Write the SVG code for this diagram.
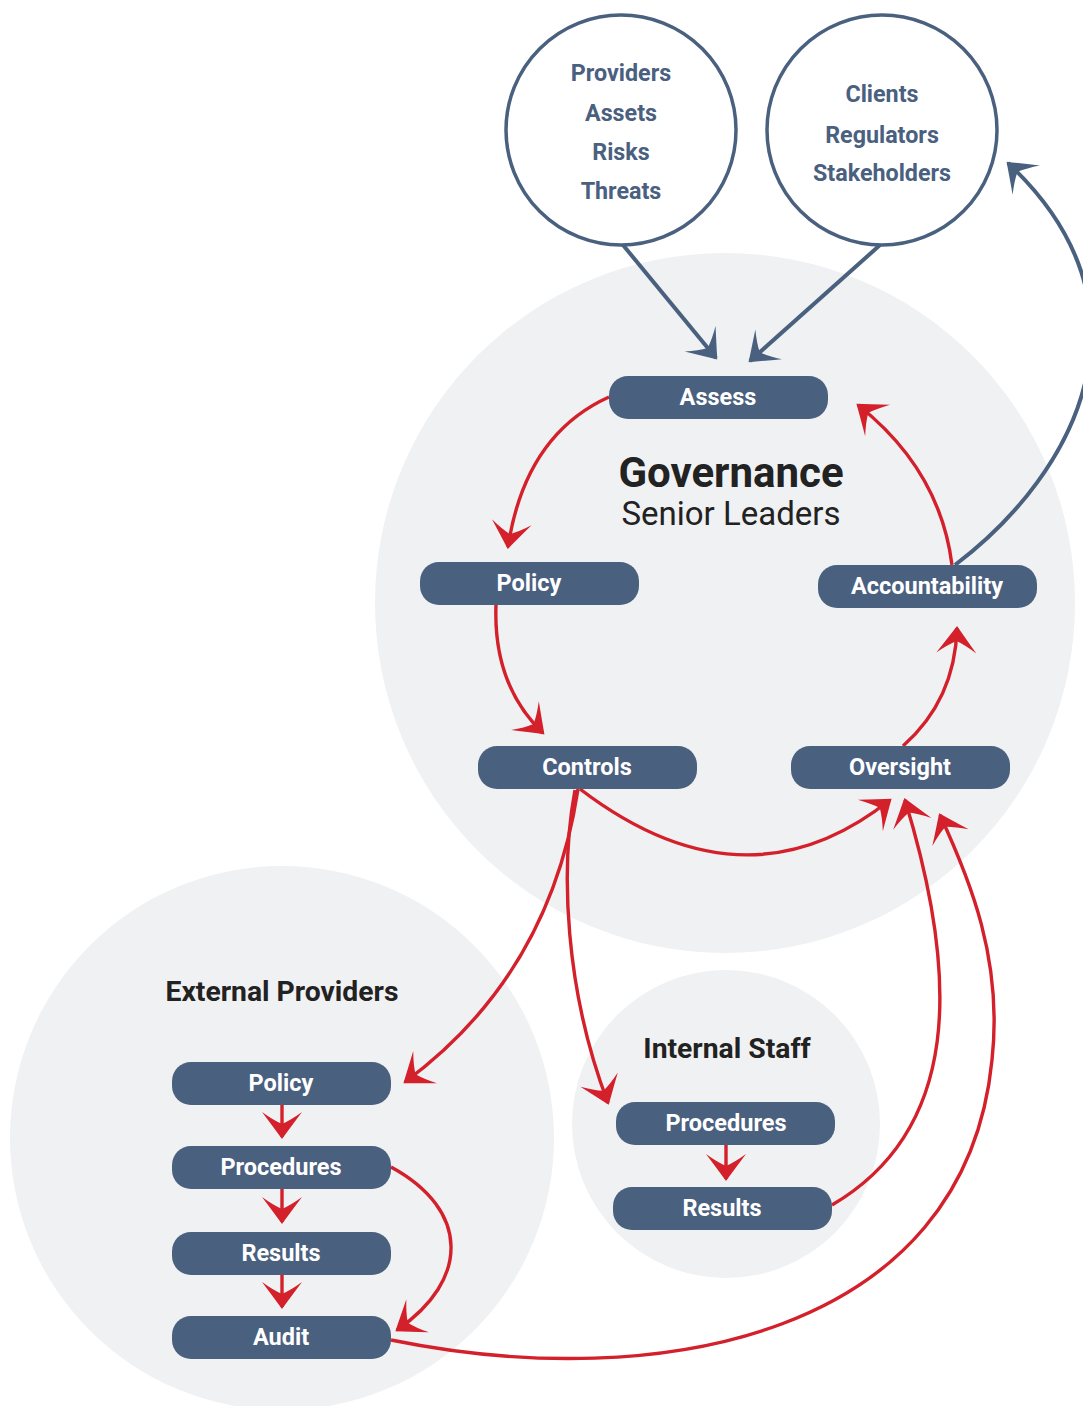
<svg xmlns="http://www.w3.org/2000/svg" width="1083" height="1406" viewBox="0 0 1083 1406">
<style>
.bg{fill:#f0f1f3}
.ring{fill:#fff;stroke:#4a607f;stroke-width:3.5}
.pill{fill:#4a607f}
.lbl{font-family:Roboto,"Liberation Sans",sans-serif;font-weight:bold;font-size:23.5px;fill:#fff;text-anchor:middle}
.ctext{font-family:Roboto,"Liberation Sans",sans-serif;font-weight:bold;font-size:23.3px;fill:#4a607f;text-anchor:middle}
.title{font-family:Roboto,"Liberation Sans",sans-serif;fill:#222;text-anchor:middle}
.red{fill:none;stroke:#d3202a;stroke-width:3.4;marker-end:url(#ar)}
.blue{fill:none;stroke:#4a607f;stroke-width:4;marker-end:url(#ab)}
</style>
<defs>
<marker id="ar" markerUnits="userSpaceOnUse" orient="auto" overflow="visible" refX="0" refY="0" markerWidth="10" markerHeight="10">
<path d="M2,0 Q-9,-8 -25,-20 Q-17,-9 -13,0 Q-17,9 -25,20 Q-9,8 2,0 Z" fill="#d3202a"/>
</marker>
<marker id="ab" markerUnits="userSpaceOnUse" orient="auto" overflow="visible" refX="0" refY="0" markerWidth="10" markerHeight="10">
<path d="M2,0 Q-9,-8 -25,-20 Q-17,-9 -13,0 Q-17,9 -25,20 Q-9,8 2,0 Z" fill="#4a607f"/>
</marker>
</defs>
<rect width="1083" height="1406" fill="#fff"/>
<g id="backgrounds">
<circle class="bg" cx="725" cy="603" r="350"/>
<circle class="bg" cx="282" cy="1138" r="272"/>
<circle class="bg" cx="726" cy="1124" r="154"/>
</g>
<g id="titles">
<text class="title" x="731" y="487" font-size="42" font-weight="bold">Governance</text>
<text class="title" x="731" y="525" font-size="33">Senior Leaders</text>
<text class="title" x="282" y="1001" font-size="28.3" font-weight="bold">External Providers</text>
<text class="title" x="727" y="1058" font-size="28.3" font-weight="bold">Internal Staff</text>
</g>
<g id="connectors">
<path class="blue" d="M623,245 L716,358"/>
<path class="blue" d="M880,245 L750,361"/>
<path class="blue" d="M955,565 C1080,470 1160,305 1008,163"/>
<path class="red" d="M609,397 Q525,435 508,547"/>
<path class="red" d="M496,605 Q493,685 543,733"/>
<path class="red" d="M580,789 Q745,915 890,800"/>
<path class="red" d="M903,746 Q955,700 957,628"/>
<path class="red" d="M952,565 Q940,470 858,405"/>
<path class="red" d="M578,789 Q550,975 405,1082"/>
<path class="red" d="M575,790 C560,870 565,990 608,1103"/>
<path class="red" d="M832,1205 C960,1130 960,980 905,800"/>
<path class="red" d="M391,1340 C660,1395 965,1335 992,1060 C1003,960 970,880 940,815"/>
<path class="red" d="M391,1167 C470,1210 470,1280 397,1330"/>
<path class="red" d="M282,1105 L282,1137"/>
<path class="red" d="M282,1189 L282,1222"/>
<path class="red" d="M282,1275 L282,1307"/>
<path class="red" d="M726,1145 L726,1179"/>
</g>
<g id="n-sources">
<circle class="ring" cx="621" cy="130" r="115"/>
<text class="ctext" x="621" y="81">Providers</text>
<text class="ctext" x="621" y="121">Assets</text>
<text class="ctext" x="621" y="160">Risks</text>
<text class="ctext" x="621" y="199">Threats</text>
</g>
<g id="n-clients">
<circle class="ring" cx="882" cy="130" r="115"/>
<text class="ctext" x="882" y="102">Clients</text>
<text class="ctext" x="882" y="143">Regulators</text>
<text class="ctext" x="882" y="181">Stakeholders</text>
</g>
<g id="n-assess"><rect class="pill" x="609" y="376" width="219" height="43" rx="19"/><text class="lbl" x="718" y="405">Assess</text></g>
<g id="n-policy"><rect class="pill" x="420" y="562" width="219" height="43" rx="19"/><text class="lbl" x="529" y="591">Policy</text></g>
<g id="n-accountability"><rect class="pill" x="818" y="565" width="219" height="43" rx="19"/><text class="lbl" x="927" y="594">Accountability</text></g>
<g id="n-controls"><rect class="pill" x="478" y="746" width="219" height="43" rx="19"/><text class="lbl" x="587" y="775">Controls</text></g>
<g id="n-oversight"><rect class="pill" x="791" y="746" width="219" height="43" rx="19"/><text class="lbl" x="900" y="775">Oversight</text></g>
<g id="n-ext-policy"><rect class="pill" x="172" y="1062" width="219" height="43" rx="19"/><text class="lbl" x="281" y="1091">Policy</text></g>
<g id="n-ext-procedures"><rect class="pill" x="172" y="1146" width="219" height="43" rx="19"/><text class="lbl" x="281" y="1175">Procedures</text></g>
<g id="n-ext-results"><rect class="pill" x="172" y="1232" width="219" height="43" rx="19"/><text class="lbl" x="281" y="1261">Results</text></g>
<g id="n-ext-audit"><rect class="pill" x="172" y="1316" width="219" height="43" rx="19"/><text class="lbl" x="281" y="1345">Audit</text></g>
<g id="n-int-procedures"><rect class="pill" x="616" y="1102" width="219" height="43" rx="19"/><text class="lbl" x="726" y="1131">Procedures</text></g>
<g id="n-int-results"><rect class="pill" x="613" y="1187" width="219" height="43" rx="19"/><text class="lbl" x="722" y="1216">Results</text></g>
</svg>
